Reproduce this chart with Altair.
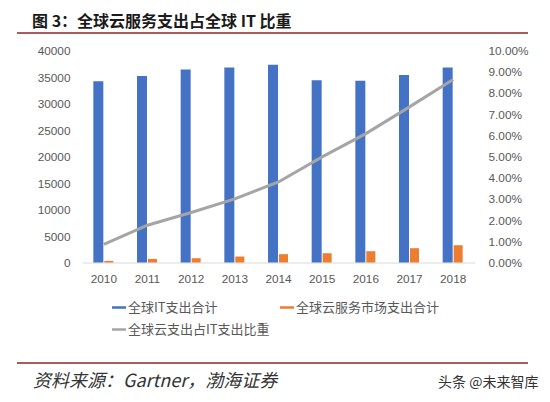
import altair as alt
import pandas as pd

years = ["2010", "2011", "2012", "2013", "2014", "2015", "2016", "2017", "2018"]
it_spend = [34200, 35200, 36400, 36800, 37300, 34400, 34300, 35400, 36800]
cloud_spend = [300, 680, 810, 1130, 1570, 1750, 2130, 2700, 3260]
cloud_share = [0.0085, 0.0176, 0.0236, 0.0300, 0.0380, 0.0498, 0.0608, 0.0734, 0.0863]

series_names = ["全球IT支出合计", "全球云服务市场支出合计", "全球云支出占IT支出比重"]
series_colors = ["#4472C4", "#ED7D31", "#A5A5A5"]
left_ticks = [0, 5000, 10000, 15000, 20000, 25000, 30000, 35000, 40000]
right_ticks = [0, 0.01, 0.02, 0.03, 0.04, 0.05, 0.06, 0.07, 0.08, 0.09, 0.10]

title_text = "图 3：全球云服务支出占全球 IT 比重"
source_text = "资料来源：Gartner，渤海证券"
watermark_text = "头条 @未来智库"

it_df = pd.DataFrame({"year": years, "value": it_spend, "series": series_names[0]})
cloud_df = pd.DataFrame({"year": years, "value": cloud_spend, "series": series_names[1]})
share_df = pd.DataFrame({"year": years, "share": cloud_share, "series": series_names[2]})
dummy = pd.DataFrame({"a": [0]})

AXIS_FONT = "Liberation Sans"
CJK = "Noto Sans CJK SC"
LABEL_COLOR = "#595959"

color_scale = alt.Scale(domain=series_names, range=series_colors)
x_enc = alt.X(
    "year:N",
    scale=alt.Scale(paddingInner=0, paddingOuter=0),
    axis=alt.Axis(
        title=None, labelAngle=0, ticks=False, domainColor="#D9D9D9", domainWidth=1,
        labelColor=LABEL_COLOR, labelFont=AXIS_FONT, labelFontSize=11.8, labelPadding=11,
        grid=False,
    ),
)
left_y = alt.Y(
    "value:Q",
    scale=alt.Scale(domain=[0, 40000], nice=False),
    axis=alt.Axis(
        title=None, values=left_ticks, format="d", ticks=False, domain=False, grid=False,
        labelColor=LABEL_COLOR, labelFont=AXIS_FONT, labelFontSize=11.8, labelPadding=12,
    ),
)
legend = alt.Legend(
    title=None, orient="none", legendX=30, legendY=250, direction="horizontal",
    columns=2, columnPadding=10, rowPadding=8,
    symbolType="M-1,-0.18L1,-0.18L1,0.18L-1,0.18Z", symbolSize=196,
    symbolStrokeWidth=0, labelFont=CJK, labelFontSize=13, labelColor=LABEL_COLOR,
    labelOffset=2, labelLimit=300, values=series_names,
)
color_enc = alt.Color("series:N", scale=color_scale, legend=legend, sort=series_names)

it_bars = alt.Chart(it_df).mark_bar(width=10, xOffset=-5.5).encode(
    x=x_enc, y=left_y, color=color_enc
)
cloud_bars = alt.Chart(cloud_df).mark_bar(width=9, xOffset=5).encode(
    x=x_enc, y=left_y, color=color_enc
)
bars = alt.layer(it_bars, cloud_bars)

share_line = alt.Chart(share_df).mark_line(strokeWidth=3).encode(
    x=x_enc,
    y=alt.Y(
        "share:Q",
        scale=alt.Scale(domain=[0, 0.10], nice=False),
        axis=alt.Axis(
            title=None, orient="right", values=right_ticks, format=".2%", ticks=False,
            domain=False, grid=False, labelColor=LABEL_COLOR, labelFont=AXIS_FONT,
            labelFontSize=11.8, labelPadding=13,
        ),
    ),
    color=color_enc,
)

rule_color = "#8E2424"
top_rule = alt.Chart(dummy).mark_rule(color=rule_color, strokeWidth=1.6).encode(
    x=alt.value(-65), x2=alt.value(446), y=alt.value(-17.5)
)
bottom_rule = alt.Chart(dummy).mark_rule(color=rule_color, strokeWidth=1.6).encode(
    x=alt.value(-65), x2=alt.value(446), y=alt.value(312.5)
)
title_mark = alt.Chart(dummy).mark_text(
    text=title_text, font=CJK, fontSize=16, fontWeight="bold", align="left",
    baseline="middle", color="#1a1a1a",
).encode(x=alt.value(-50), y=alt.value(-29))
source_mark = alt.Chart(dummy).mark_text(
    text=source_text, font=CJK, fontSize=18, fontStyle="italic", align="left",
    baseline="middle", color="#333333",
).encode(x=alt.value(-49), y=alt.value(331))
watermark_mark = alt.Chart(dummy).mark_text(
    text=watermark_text, font=CJK, fontSize=14, align="left",
    baseline="middle", color="#333333",
).encode(x=alt.value(356), y=alt.value(332.5))

chart = alt.layer(
    bars, share_line, top_rule, bottom_rule, title_mark, source_mark, watermark_mark
).resolve_scale(y="independent").properties(
    width=393, height=212,
    padding={"left": 74, "top": 42.5, "right": 67, "bottom": 129},
    autosize=alt.AutoSizeParams(type="none"),
).configure_view(stroke=None)

chart.save("out.html", embed_options={"renderer": "svg", "actions": False})
